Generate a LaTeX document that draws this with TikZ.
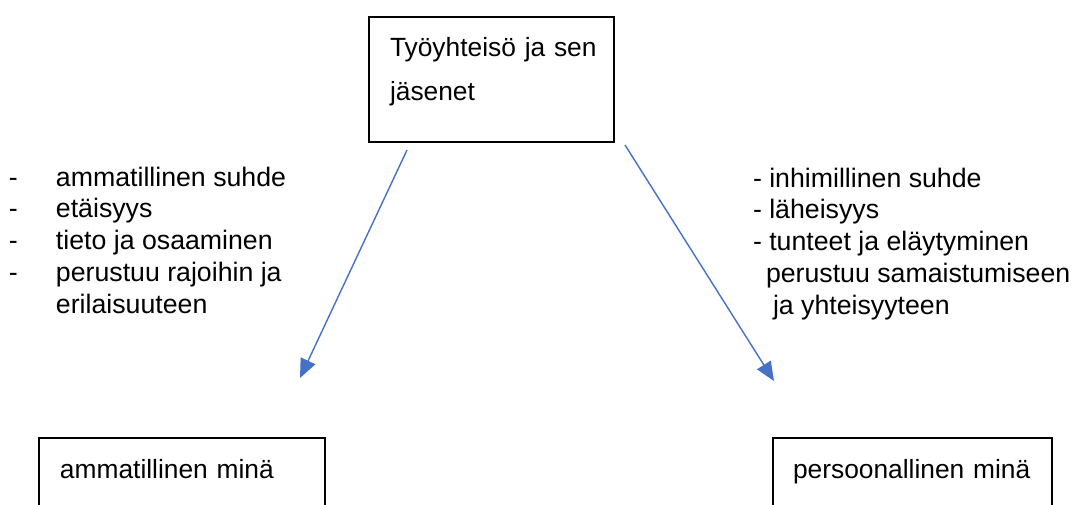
\documentclass[tikz,border=0pt]{standalone}
\usepackage{fontspec}
\setmainfont{Liberation Sans}
\usetikzlibrary{arrows.meta}
\definecolor{arrowblue}{HTML}{4472C4}
\begin{document}
\begin{tikzpicture}[x=0.02cm, y=-0.02cm, font=\fontsize{15.2}{18.2}\selectfont,
    box/.style = {draw, line width=0.75pt, rectangle, anchor=north west, align=left, inner ysep=0.36cm, outer sep=0pt, text height=0.44cm, font=\fontsize{15}{25}\selectfont},
    arr/.style = {draw=arrowblue, line width=0.8pt, -{Triangle[length=0.38cm, width=0.32cm]}},
    txt/.style = {inner sep=0pt, outer sep=0pt, anchor=base west}]

    \useasboundingbox (0,0) rectangle (1074,504);
    \clip (0,0) rectangle (1074,504);

    % Nodes
    \node[box, inner xsep=0.42cm, inner ysep=0.34cm, text width=4.06cm, text height=0.46cm, text depth=1.36cm] (yhteiso) at (369,17) {\mbox{Työyhteisö ja sen}\\jäsenet};
    \node[box, inner xsep=0.42cm, text width=4.88cm, text depth=2cm] (ammatillinen) at (39,438) {ammatillinen minä};
    \node[box, inner xsep=0.4cm, text width=4.78cm, text depth=2cm] (persoonallinen) at (773,438) {persoonallinen minä};

    \node[txt] (vasen) at (9,186) {\begin{tabular}[t]{@{}p{0.94cm}@{}l@{}}
        - & ammatillinen suhde\\
        - & etäisyys\\
        - & tieto ja osaaminen\\
        - & perustuu rajoihin ja\\
          & erilaisuuteen
      \end{tabular}};
    \node[txt] (oikea) at (753,187) {\begin{tabular}[t]{@{}l@{}}
        - inhimillinen suhde\\
        - läheisyys\\
        - tunteet ja eläytyminen\\
        \hspace{0.26cm}perustuu samaistumiseen\\
        \hspace{0.4cm}ja yhteisyyteen
      \end{tabular}};

    % Edges
    \coordinate (v1) at (407,150);
    \coordinate (v2) at (300,378);
    \coordinate (o1) at (625,145);
    \coordinate (o2) at (774,381);
    \draw[arr] (v1) -- (v2);
    \draw[arr] (o1) -- (o2);
\end{tikzpicture}
\end{document}
